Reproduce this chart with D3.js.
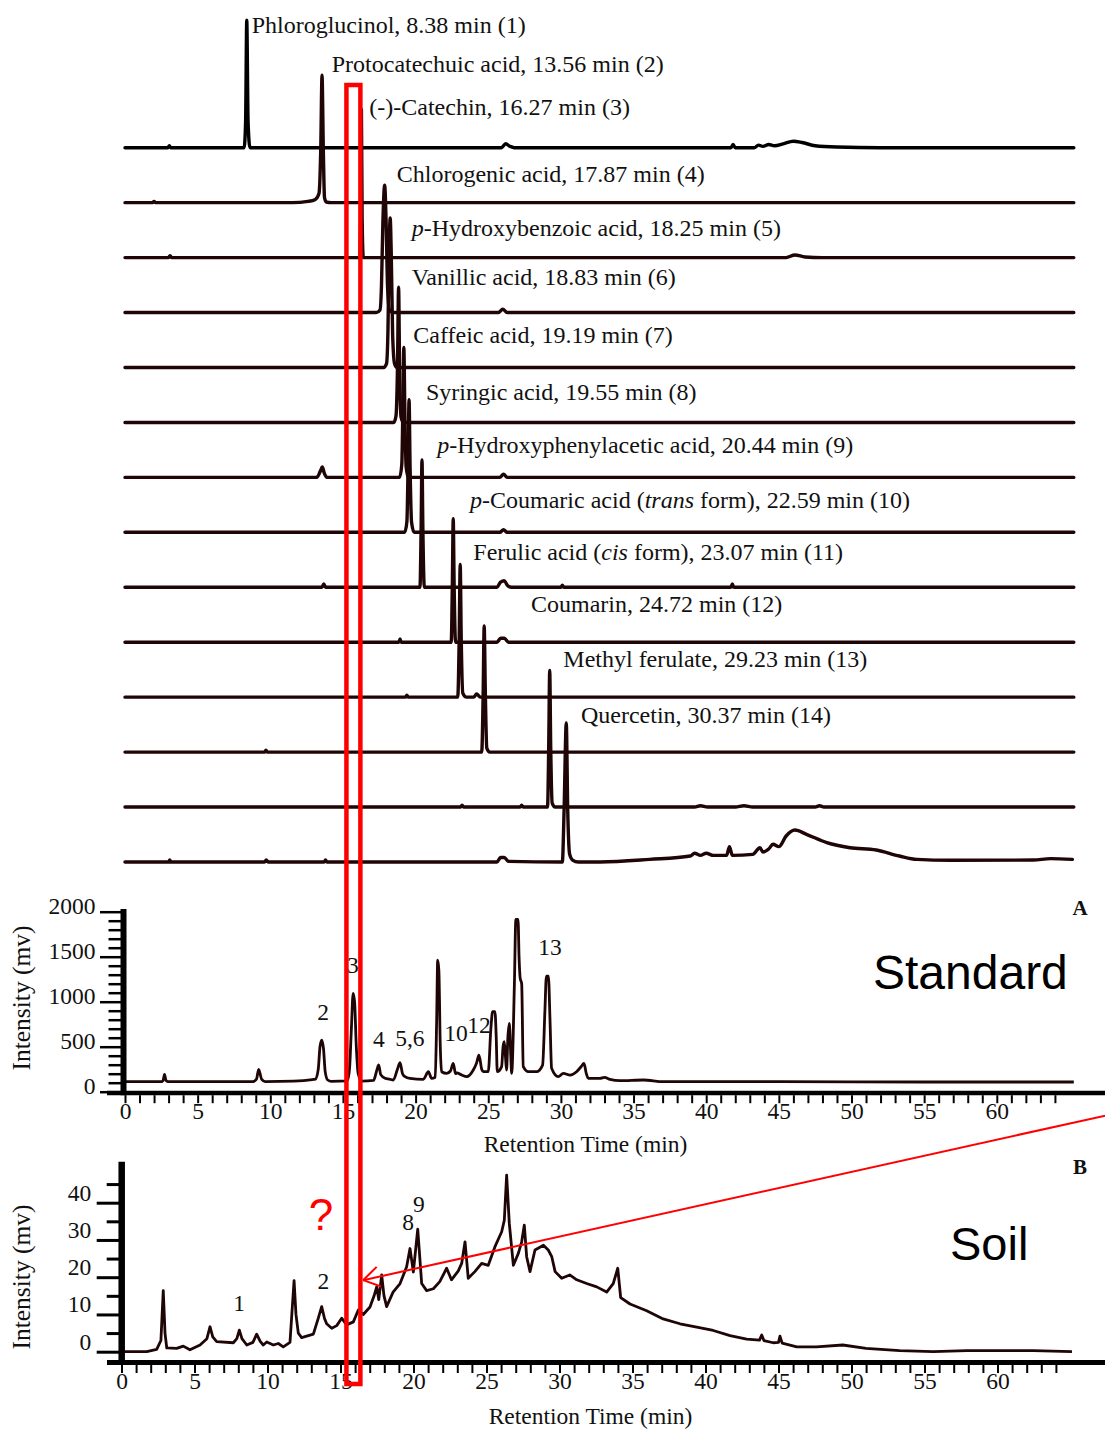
<!DOCTYPE html>
<html><head><meta charset="utf-8">
<script src="https://cdn.jsdelivr.net/npm/d3@7"></script>
<style>html,body{margin:0;padding:0;background:#fff;} svg{display:block;}</style>
</head><body><svg id="c" width="1105" height="1432"></svg>
<script>
// ---------------- DATA ----------------
const compoundNames = ["Phloroglucinol","Protocatechuic acid","(-)-Catechin","Chlorogenic acid",
  "*p*-Hydroxybenzoic acid","Vanillic acid","Caffeic acid","Syringic acid",
  "*p*-Hydroxyphenylacetic acid","*p*-Coumaric acid (*trans* form)","Ferulic acid (*cis* form)",
  "Coumarin","Methyl ferulate","Quercetin"];
const retentionTimes = [8.38,13.56,16.27,17.87,18.25,18.83,19.19,19.55,20.44,22.59,23.07,24.72,29.23,30.37];

// stacked standard traces: [time (min), relative response]
const trace1 = [[0,0],[2.95,0],[3.05,1.5],[3.15,0],[8.2,0],[8.3,20],[8.38,98],[8.47,20],[8.6,0],[25.9,0],[26.2,3],[26.5,1],[26.8,0],[41.7,0],[41.85,2.5],[42.0,0],[43.3,0],[43.6,2],[43.9,1],[44.3,2.5],[44.7,1.5],[45.3,3],[46.0,5],[46.6,4],[47.5,1.5],[49,0.5],[52,0],[65.3,0]];
const trace2 = [[0,0],[1.9,0],[2.0,1],[2.1,0],[11.5,0],[12.6,1],[13.1,2.5],[13.35,7],[13.47,40],[13.56,98],[13.65,40],[13.73,4],[13.85,0.5],[14.2,0],[65.3,0]];
const trace3 = [[0,0],[3.0,0],[3.1,1.5],[3.2,0],[16.15,0],[16.22,30],[16.27,114],[16.32,30],[16.4,0],[45.5,0],[46.1,2],[46.8,0.5],[48,0],[65.3,0]];
const trace4 = [[0,0],[17.3,0],[17.55,2],[17.65,20],[17.75,70],[17.87,98],[17.97,70],[18.07,20],[18.2,2],[18.4,0],[25.7,0],[26.0,2.5],[26.3,0],[65.3,0]];
const trace5 = [[0,0],[17.8,0],[18.0,3],[18.1,30],[18.18,90],[18.25,115],[18.32,90],[18.42,25],[18.55,3],[18.7,0],[65.3,0]];
const trace6 = [[0,0],[18.5,0],[18.65,5],[18.75,40],[18.83,104],[18.9,40],[19.0,4],[19.15,0],[65.3,0]];
const trace7 = [[0,0],[13.2,0],[13.45,5],[13.58,8],[13.72,3],[13.9,0],[18.9,0],[19.05,10],[19.12,50],[19.19,100],[19.26,50],[19.35,8],[19.5,0],[25.8,0],[26.05,2.5],[26.3,0],[65.3,0]];
const trace8 = [[0,0],[19.25,0],[19.4,8],[19.48,50],[19.55,102],[19.62,50],[19.72,8],[19.9,0],[25.8,0],[26.05,2],[26.3,0],[65.3,0]];
const trace9 = [[0,0],[13.55,0],[13.68,2.5],[13.8,0],[20.3,0],[20.38,45],[20.44,98],[20.5,45],[20.6,0],[25.6,0],[25.85,4],[26.1,5],[26.35,1],[26.6,0],[30.0,0],[30.1,1.5],[30.2,0],[41.7,0],[41.8,2.5],[41.9,0],[65.3,0]];
const trace10 = [[0,0],[18.85,0],[18.93,2.5],[19.0,0],[22.45,0],[22.53,45],[22.59,95],[22.65,45],[22.75,0],[25.6,0],[25.85,3],[26.1,3],[26.4,0],[65.3,0]];
const trace11 = [[0,0],[19.3,0],[19.4,1.5],[19.5,0],[22.9,0],[23.0,45],[23.07,102],[23.14,45],[23.25,3],[23.5,0],[24.0,0],[24.2,2.5],[24.45,0],[65.3,0]];
const trace12 = [[0,0],[9.6,0],[9.7,1.5],[9.8,0],[24.55,0],[24.65,45],[24.72,97],[24.8,45],[24.9,3],[25.1,0],[65.3,0]];
const trace13 = [[0,0],[23.1,0],[23.2,1.5],[23.3,0],[27.2,0],[27.3,1.5],[27.4,0],[29.08,0],[29.16,45],[29.23,105],[29.3,45],[29.4,3],[29.6,0],[39.2,0],[39.6,1],[40.1,0],[42,0],[42.6,1],[43.2,0],[47.5,0],[47.8,1],[48.1,0],[65.3,0]];
const trace14 = [[0,0],[3.0,0],[3.08,1.5],[3.16,0],[9.6,0],[9.72,1.5],[9.85,0],[13.7,0],[13.8,1.5],[13.9,0],[25.6,0],[25.85,3.5],[26.1,3.5],[26.4,0.5],[30.1,0],[30.22,40],[30.37,107],[30.47,40],[30.6,6],[30.8,1.5],[31.2,0],[32.7,0],[36.1,2],[38.9,4.6],[39.2,6.7],[39.6,5.1],[40.0,6.7],[40.5,5.1],[41.4,5.1],[41.6,11.8],[41.8,5.1],[43.2,5.9],[43.7,11],[43.9,7.7],[44.3,10],[44.6,13.6],[45.0,11.8],[45.5,20],[46.1,24.6],[46.9,21.3],[48.3,14.9],[49.9,11],[51.7,9.2],[53.3,4.6],[54.5,2],[56.8,1.3],[62.5,1.5],[63.7,2.6],[65.2,2]];
const standardTraces = [trace1,trace2,trace3,trace4,trace5,trace6,trace7,trace8,trace9,trace10,trace11,trace12,trace13,trace14];

// Panel A (standard mix): [time (min), intensity (mv)]
const standardMix = [[0,111],[2.5,111],[2.62,125],[2.72,193],[2.82,125],[2.95,111],[8.8,113],[9.05,140],[9.2,249],[9.4,140],[9.65,113],[11.6,118],[12.9,135],[13.1,140],[13.3,250],[13.42,500],[13.54,574],[13.66,480],[13.78,220],[13.95,130],[14.2,115],[15.3,120],[15.45,250],[15.58,700],[15.7,1093],[15.8,1000],[15.92,500],[16.05,200],[16.3,118],[17.1,125],[17.35,250],[17.46,297],[17.6,190],[17.9,150],[18.2,140],[18.47,130],[18.75,250],[18.93,322],[19.1,200],[19.27,167],[19.61,148],[20.53,137],[20.88,222],[21.1,148],[21.35,160],[21.45,800],[21.52,1463],[21.6,1350],[21.7,500],[21.79,222],[22.14,204],[22.4,230],[22.59,315],[22.75,200],[22.83,210],[23.17,185],[23.52,167],[23.97,241],[24.2,320],[24.36,407],[24.55,250],[24.66,222],[25.0,222],[25.18,700],[25.3,889],[25.46,889],[25.55,600],[25.62,222],[25.92,278],[26.02,500],[26.1,556],[26.18,400],[26.26,241],[26.35,600],[26.45,759],[26.55,400],[26.61,204],[26.8,1200],[26.9,1915],[27.05,1915],[27.12,1500],[27.2,1259],[27.3,1200],[27.41,278],[27.76,222],[28.33,222],[28.74,296],[28.9,900],[29.0,1285],[29.14,1285],[29.25,800],[29.36,260],[29.82,167],[30.17,204],[30.63,185],[31.08,222],[31.4,280],[31.59,315],[31.75,200],[31.89,148],[32.69,148],[33.0,160],[33.38,137],[34.07,122],[35.68,130],[37.05,111],[45,111],[55,108],[65.3,108]];
const standardPeakLabels = [["2",13.63,797],["3",15.69,1322],["4",17.48,500],["5,6",19.61,508],["10",22.78,567],["12",24.36,656],["13",29.25,1519]];

// Panel B (soil): [time (min), intensity (mv)]
const soilSample = [[0,0],[1.73,0],[2.41,0.6],[2.7,3],[2.86,16.4],[2.98,5],[3.1,1],[3.78,0.9],[4.23,1.5],[4.69,0.5],[5.38,1.8],[5.85,3.5],[6.06,6.7],[6.25,4],[6.52,2.7],[7.66,2.4],[7.9,3.5],[8.07,5.8],[8.25,3.5],[8.58,1.8],[9.0,2.5],[9.26,4.7],[9.5,2.8],[9.71,1.8],[9.95,2.6],[10.4,1.8],[10.74,2.2],[11.08,1.3],[11.54,2.5],[11.7,12],[11.82,19.1],[11.95,10],[12.11,5],[12.34,3.8],[13.14,4.7],[13.48,9],[13.71,12.1],[13.9,9],[14.05,7.5],[14.4,6.3],[14.74,7],[15.08,9],[15.42,7.2],[15.88,8],[16.22,11.2],[16.56,10],[17.02,12],[17.3,15],[17.48,17.4],[17.62,14],[17.82,20.6],[17.98,15],[18.16,12.1],[18.6,16],[19.08,18.3],[19.53,22.8],[19.76,27.7],[19.99,21.4],[20.29,32.9],[20.56,18.3],[20.9,16.4],[21.36,16.9],[21.8,18.8],[22.27,22.4],[22.6,19.3],[23.07,21.7],[23.3,23.7],[23.53,29.5],[23.75,19.7],[24.2,21.5],[24.67,23.7],[25.12,23.2],[25.58,28.2],[26.04,32.2],[26.22,35.3],[26.38,47.4],[26.56,34.5],[26.84,23.2],[27.18,26.4],[27.41,29.5],[27.59,34],[27.75,25.5],[27.98,21.5],[28.32,27.3],[28.9,28.6],[29.23,27.3],[29.47,25.5],[29.7,21.5],[30.15,19.7],[30.7,20.6],[31.18,19.3],[31.86,18.3],[32.55,17.4],[33.23,16],[33.68,18.3],[33.99,22.4],[34.19,14.5],[34.83,12.8],[35.97,11],[37.1,8.8],[38.25,7.5],[39.4,6.6],[40.53,5.7],[41.68,4.3],[42.82,3.4],[43.7,3.1],[43.85,4.5],[44.0,3],[44.64,2.4],[45.0,2.5],[45.1,4.2],[45.25,2.3],[46.25,1.3],[47.6,1.3],[49.4,1.8],[51.0,0.9],[53.3,0.3],[55.6,0],[57.9,0.3],[62.45,0.3],[65.1,0]];
const soilPeakLabels = [["1",8.05,11],["2",13.82,16.75],["8",19.64,32.7],["9",20.36,37.6]];

const xTickValues = d3.range(0, 65, 1);
const yTicksA = d3.range(0, 2001, 100);
const yTicksB = d3.range(0, 46, 5);

// annotation (soil panel coordinates)
const arrowFrom = [67.4, 63.4], arrowTo = [16.55, 19.2];
const highlightWindow = [15.24, 16.2];

// ---------------- LAYOUT ----------------
const serif = "'Liberation Serif','Times New Roman',Times,serif";
const sans = "'Liberation Sans',Arial,Helvetica,sans-serif";
const ink = "#1f0505";
const labelOffsets = [[4.9,-114.4],[9.7,-131],[7.9,-142.6],[12.1,-130.8],[21.5,-131],[13.1,-137.4],[9.5,-134.1],[16.9,-132.3],[15.3,-134],[16.8,-133.9],[13.1,-137.2],[46.8,-140.4],[13.6,-140.4],[14.7,-139.3]];

const svg = d3.select("#c");
const xTop = d3.scaleLinear().domain([0,60]).range([125, 996.8]);
const xA = xTop;
const xB = d3.scaleLinear().domain([0,60]).range([121.5, 997.5]);
const traceBase = d3.scalePoint().domain(d3.range(14)).range([147.7, 862]);
const traceAmp = d3.scaleLinear().domain([0,100]).range([0,130]);
const yA = d3.scaleLinear().domain([0,2000]).range([1091.7, 911.7]);
const yB = d3.scaleLinear().domain([0,40]).range([1351.7, 1202.7]);

// ---------------- STACKED STANDARDS ----------------
const gTop = svg.append("g");
standardTraces.forEach((tr, i) => {
  const line = d3.line().x(d => xTop(d[0])).y(d => traceBase(i) - traceAmp(d[1])).curve(d3.curveMonotoneX);
  gTop.append("path").attr("d", line(tr)).attr("fill","none")
    .attr("stroke", i === 0 ? "#000" : ink).attr("stroke-width", 3.4)
    .attr("stroke-linejoin","round").attr("stroke-linecap","round");
});
const fmt = d3.format(".2f");
compoundNames.forEach((name, i) => {
  const t = gTop.append("text")
    .attr("x", xTop(retentionTimes[i]) + labelOffsets[i][0])
    .attr("y", traceBase(i) + labelOffsets[i][1])
    .attr("font-family", serif).attr("font-size", 24).attr("fill", "#111");
  const full = name + ", " + fmt(retentionTimes[i]) + " min (" + (i+1) + ")";
  full.split("*").forEach((part, k) => {
    if (!part) return;
    t.append("tspan").text(part).attr("font-style", k % 2 ? "italic" : "normal");
  });
});

// ---------------- PANEL A ----------------
function xAxis(scale, y) {
  const g = svg.append("g").attr("transform", `translate(0,${y})`)
    .call(d3.axisBottom(scale).tickValues(xTickValues).tickSize(8).tickSizeOuter(0)
      .tickFormat(d => d % 5 === 0 ? d : ""));
  g.select(".domain").remove();
  g.attr("font-family", serif).attr("font-size", 23.5);
  g.selectAll(".tick line").attr("stroke", "#000").attr("stroke-width", 2);
  g.selectAll(".tick text").attr("y", 23.5).attr("dy", null).attr("fill", "#111");
  return g;
}
// data line
svg.append("path").attr("d", d3.line().x(d => xA(d[0])).y(d => yA(d[1])).curve(d3.curveMonotoneX)(standardMix))
  .attr("fill","none").attr("stroke", ink).attr("stroke-width", 2.8).attr("stroke-linejoin","round");
// axes A
svg.append("line").attr("x1",107).attr("x2",1105).attr("y1",1093).attr("y2",1093).attr("stroke","#000").attr("stroke-width",4.5);
xAxis(xA, 1095.2);
const gyA = svg.append("g").attr("transform","translate(123.5,0)")
  .call(d3.axisLeft(yA).tickValues(yTicksA).tickSize(15).tickSizeOuter(0).tickFormat(d => d % 500 === 0 ? d : ""));
gyA.select(".domain").remove();
gyA.attr("font-family", serif).attr("font-size", 23.5);
gyA.selectAll(".tick line").attr("x2", d => d % 500 === 0 ? -23.5 : -15).attr("stroke","#000").attr("stroke-width", 2.5);
gyA.selectAll(".tick text").attr("x", -28).attr("y", -6).attr("fill","#111");
svg.append("line").attr("x1",123.5).attr("x2",123.5).attr("y1",909).attr("y2",1095.3).attr("stroke","#000").attr("stroke-width",6);
// peak labels
svg.append("g").selectAll("text").data(standardPeakLabels).join("text")
  .attr("x", d => xA(d[1])).attr("y", d => yA(d[2])).attr("text-anchor","middle")
  .attr("font-family", serif).attr("font-size", 23.5).attr("fill","#111").text(d => d[0]);
svg.append("text").attr("x", 585.5).attr("y", 1151.5).attr("text-anchor","middle")
  .attr("font-family", serif).attr("font-size", 23.5).attr("fill","#111").text("Retention Time (min)");
svg.append("text").attr("transform","translate(29.5,998) rotate(-90)").attr("text-anchor","middle")
  .attr("font-family", serif).attr("font-size", 25.5).attr("fill","#111").text("Intensity (mv)");
svg.append("text").attr("x", 1072.5).attr("y", 915).attr("font-family", serif).attr("font-weight","bold")
  .attr("font-size", 21).attr("fill","#111").text("A");
svg.append("text").attr("x", 873).attr("y", 988.5).attr("font-family", sans).attr("font-size", 48).attr("fill","#000").text("Standard");

// ---------------- PANEL B ----------------
svg.append("path").attr("d", d3.line().x(d => xB(d[0])).y(d => yB(d[1]))(soilSample))
  .attr("fill","none").attr("stroke", ink).attr("stroke-width", 2.8).attr("stroke-linejoin","round");
svg.append("line").attr("x1",107).attr("x2",1105).attr("y1",1362.5).attr("y2",1362.5).attr("stroke","#000").attr("stroke-width",5);
xAxis(xB, 1365);
const gyB = svg.append("g").attr("transform","translate(121.7,0)")
  .call(d3.axisLeft(yB).tickValues(yTicksB).tickSize(15).tickSizeOuter(0).tickFormat(d => d % 10 === 0 ? d : ""));
gyB.select(".domain").remove();
gyB.attr("font-family", serif).attr("font-size", 23.5);
gyB.selectAll(".tick line").attr("x2", d => d % 10 === 0 ? -25 : -15).attr("stroke","#000").attr("stroke-width", 3);
gyB.selectAll(".tick text").attr("x", -30.5).attr("y", -10).attr("fill","#111");
svg.append("line").attr("x1",121.7).attr("x2",121.7).attr("y1",1161.7).attr("y2",1365).attr("stroke","#000").attr("stroke-width",6.5);
svg.append("g").selectAll("text").data(soilPeakLabels).join("text")
  .attr("x", d => xB(d[1])).attr("y", d => yB(d[2])).attr("text-anchor","middle")
  .attr("font-family", serif).attr("font-size", 23.5).attr("fill","#111").text(d => d[0]);
svg.append("text").attr("x", 590.5).attr("y", 1424).attr("text-anchor","middle")
  .attr("font-family", serif).attr("font-size", 23.5).attr("fill","#111").text("Retention Time (min)");
svg.append("text").attr("transform","translate(29.5,1277) rotate(-90)").attr("text-anchor","middle")
  .attr("font-family", serif).attr("font-size", 25.5).attr("fill","#111").text("Intensity (mv)");
svg.append("text").attr("x", 1073).attr("y", 1174).attr("font-family", serif).attr("font-weight","bold")
  .attr("font-size", 21).attr("fill","#111").text("B");
svg.append("text").attr("x", 950).attr("y", 1260).attr("font-family", sans).attr("font-size", 47).attr("fill","#000").text("Soil");

// ---------------- RED ANNOTATIONS ----------------
const red = "#ff0000";
svg.append("rect").attr("x", xTop(highlightWindow[0])).attr("y", 85)
  .attr("width", xTop(highlightWindow[1]) - xTop(highlightWindow[0])).attr("height", 1299)
  .attr("fill","none").attr("stroke", red).attr("stroke-width", 4.5);
const p0 = [xB(arrowFrom[0]), yB(arrowFrom[1])], p1 = [xB(arrowTo[0]), yB(arrowTo[1])];
svg.append("line").attr("x1", p0[0]).attr("y1", p0[1]).attr("x2", p1[0]).attr("y2", p1[1])
  .attr("stroke", red).attr("stroke-width", 2);
const ang = Math.atan2(p0[1]-p1[1], p0[0]-p1[0]);
[-0.56, 0.56].forEach(a => {
  svg.append("line").attr("x1", p1[0]).attr("y1", p1[1])
    .attr("x2", p1[0] + 19*Math.cos(ang + a)).attr("y2", p1[1] + 19*Math.sin(ang + a))
    .attr("stroke", red).attr("stroke-width", 2);
});
svg.append("text").attr("x", 321).attr("y", 1230).attr("text-anchor","middle")
  .attr("font-family", sans).attr("font-size", 44).attr("fill", red).text("?");
</script></body></html>
